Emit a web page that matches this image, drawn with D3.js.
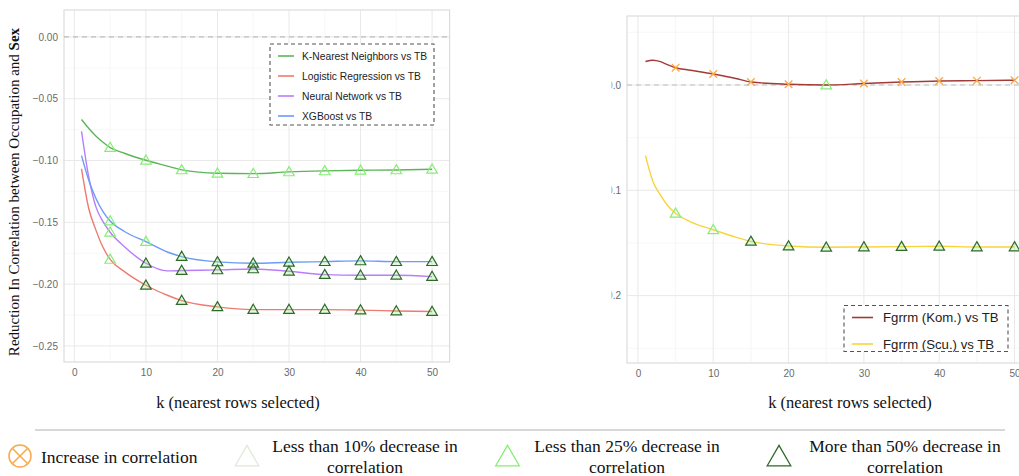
<!DOCTYPE html>
<html><head><meta charset="utf-8">
<script src="https://cdn.jsdelivr.net/npm/d3@7"></script>
<style>
html,body{margin:0;padding:0;background:#fff;}
svg{display:block;}
</style></head>
<body>
<svg id="chart" width="1019" height="476"></svg>
<script>
// ---------------- DATA ----------------
const kValues = [1, 2, 3, 4, 5, 7, 10, 13, 15, 20, 25, 30, 35, 40, 45, 50];
const markerK = [5, 10, 15, 20, 25, 30, 35, 40, 45, 50];

const knnVals = [-0.0668, -0.0739, -0.0801, -0.0852, -0.0895, -0.0941, -0.0998, -0.1045, -0.1076, -0.1103, -0.1106, -0.1092, -0.1084, -0.1079, -0.1076, -0.1071];
const lrVals  = [-0.1068, -0.1386, -0.1561, -0.1702, -0.1800, -0.1899, -0.2009, -0.2090, -0.2133, -0.2184, -0.2206, -0.2206, -0.2206, -0.2210, -0.2217, -0.2222];
const nnVals  = [-0.0763, -0.1130, -0.1373, -0.1494, -0.1580, -0.1697, -0.1831, -0.1893, -0.1890, -0.1885, -0.1877, -0.1896, -0.1923, -0.1928, -0.1928, -0.1939];
const xgbVals = [-0.0960, -0.1157, -0.1305, -0.1413, -0.1489, -0.1574, -0.1656, -0.1740, -0.1777, -0.1820, -0.1831, -0.1823, -0.1818, -0.1812, -0.1818, -0.1818];
const komVals = [0.0223, 0.0235, 0.0221, 0.0190, 0.0164, 0.0140, 0.0104, 0.0062, 0.0028, 0.0007, 0.0000, 0.0014, 0.0028, 0.0038, 0.0041, 0.0045];
const scuVals = [-0.0671, -0.0918, -0.1045, -0.1149, -0.1218, -0.1300, -0.1375, -0.1445, -0.1485, -0.1529, -0.1541, -0.1538, -0.1535, -0.1532, -0.1538, -0.1538];

// marker class per markerK: inc = increase, lt10, lt25, gt50
const knnMarks = ["lt25","lt25","lt25","lt25","lt25","lt25","lt25","lt25","lt25","lt25"];
const lrMarks  = ["lt25","gt50","gt50","gt50","gt50","gt50","gt50","gt50","gt50","gt50"];
const nnMarks  = ["lt25","gt50","gt50","gt50","gt50","gt50","gt50","gt50","gt50","gt50"];
const xgbMarks = ["lt25","lt25","gt50","gt50","gt50","gt50","gt50","gt50","gt50","gt50"];
const komMarks = ["inc","inc","inc","inc","lt25","inc","inc","inc","inc","inc"];
const scuMarks = ["lt25","lt25","gt50","gt50","gt50","gt50","gt50","gt50","gt50","gt50"];

const leftNames  = ["K-Nearest Neighbors vs TB", "Logistic Regression vs TB", "Neural Network vs TB", "XGBoost vs TB"];
const rightNames = ["Fgrrm (Kom.) vs TB", "Fgrrm (Scu.) vs TB"];
const xTicks = [0, 10, 20, 30, 40, 50];
const leftYTicks = [0, -0.05, -0.10, -0.15, -0.20, -0.25];
const rightYTicks = [0, -0.1, -0.2];
const legendLabels = ["Increase in correlation", "Less than 10% decrease in|correlation", "Less than 25% decrease in|correlation", "More than 50% decrease in|correlation"];

// ---------------- STYLE ----------------
const leftColors = ["#5DB55A", "#EE7B70", "#B97DFA", "#6B9CF6"];
const rightColors = ["#A33A35", "#F8D33C"];
const markColor = {inc: "#F7A94B", lt10: "#E0EAD8", lt25: "#86EE74", gt50: "#2F6A2A"};

const svg = d3.select("#chart");

function panel(opts) {
  const g = svg.append("g");
  if (opts.clip) {
    svg.append("defs").append("clipPath").attr("id", opts.clip.id)
      .append("rect").attr("x", opts.clip.x).attr("y", 0).attr("width", 1019 - opts.clip.x).attr("height", 476);
    g.attr("clip-path", `url(#${opts.clip.id})`);
  }
  const x = d3.scaleLinear().domain([-1.45, 52.45]).range(opts.xr);
  const y = d3.scaleLinear().domain(opts.yd).range(opts.yr);
  const [x0, x1] = opts.xr, [y1, y0] = opts.yr;

  // minor grid
  const xMinor = [5, 15, 25, 35, 45];
  g.append("g").selectAll("line").data(xMinor).join("line")
    .attr("x1", d => x(d)).attr("x2", d => x(d)).attr("y1", y0).attr("y2", y1)
    .attr("stroke", "#f3f3f3").attr("stroke-width", 0.7);
  g.append("g").selectAll("line").data(opts.yMinor).join("line")
    .attr("x1", x0).attr("x2", x1).attr("y1", d => y(d)).attr("y2", d => y(d))
    .attr("stroke", "#f3f3f3").attr("stroke-width", 0.7);
  // major grid
  g.append("g").selectAll("line").data(xTicks).join("line")
    .attr("x1", d => x(d)).attr("x2", d => x(d)).attr("y1", y0).attr("y2", y1)
    .attr("stroke", "#e9e9e9").attr("stroke-width", 1);
  g.append("g").selectAll("line").data(opts.yTicks).join("line")
    .attr("x1", x0).attr("x2", x1).attr("y1", d => y(d)).attr("y2", d => y(d))
    .attr("stroke", "#e9e9e9").attr("stroke-width", 1);
  // border
  g.append("rect").attr("x", x0).attr("y", y0).attr("width", x1 - x0).attr("height", y1 - y0)
    .attr("fill", "none").attr("stroke", "#dcdcdc").attr("stroke-width", 1.2);
  // zero line
  g.append("line").attr("x1", x0).attr("x2", x1).attr("y1", y(0)).attr("y2", y(0))
    .attr("stroke", "#bdbdbd").attr("stroke-width", 1.2).attr("stroke-dasharray", "5,4");

  // axes (ticks hidden, labels only)
  const xAxis = g.append("g").attr("transform", `translate(0,${y1 + 4})`)
    .call(d3.axisBottom(x).tickValues(xTicks).tickSize(0).tickFormat(d3.format("d")));
  const yAxis = g.append("g").attr("transform", `translate(${x0 - 3},0)`)
    .call(d3.axisLeft(y).tickValues(opts.yTicks).tickSize(0).tickFormat(d3.format(opts.yFmt)));
  [xAxis, yAxis].forEach(a => {
    a.select(".domain").remove();
    a.selectAll("text").attr("fill", "#6a6a6a").attr("font-family", "Liberation Sans, Arial, sans-serif").attr("font-size", 10);
  });

  // lines
  const line = d3.line().x((d, i) => x(kValues[i])).y(d => y(d)).curve(d3.curveMonotoneX);
  opts.series.forEach((s, si) => {
    g.append("path").datum(s.vals).attr("d", line)
      .attr("fill", "none").attr("stroke", s.color).attr("stroke-width", 1.4);
  });
  // markers
  const tri = d3.symbol().type(d3.symbolTriangle).size(48);
  opts.series.forEach(s => {
    const pts = markerK.map((k, i) => ({k: k, v: s.vals[kValues.indexOf(k)], c: s.marks[i]}));
    pts.forEach(p => {
      const px = x(p.k), py = y(p.v);
      if (p.c === "inc") {
        const r = 3.8;
        g.append("path").attr("d", `M${px - r},${py - r}L${px + r},${py + r}M${px - r},${py + r}L${px + r},${py - r}`)
          .attr("stroke", markColor.inc).attr("stroke-width", 1.3).attr("fill", "none");
      } else {
        g.append("path").attr("d", tri()).attr("transform", `translate(${px},${py + 0.8})`)
          .attr("fill", p.c === "gt50" ? "rgba(134,238,116,0.25)" : "none")
          .attr("stroke", markColor[p.c]).attr("stroke-width", 1.2);
      }
    });
  });

  // legend
  const L = opts.legend;
  g.append("rect").attr("x", L.x).attr("y", L.y).attr("width", L.w).attr("height", L.h)
    .attr("fill", "#fff").attr("stroke", "#555").attr("stroke-width", 1.1).attr("stroke-dasharray", "4,3");
  opts.series.forEach((s, i) => {
    const yy = L.y0 + i * L.dy;
    g.append("line").attr("x1", L.lx0).attr("x2", L.lx1).attr("y1", yy).attr("y2", yy)
      .attr("stroke", s.color).attr("stroke-width", 1.6);
    g.append("text").attr("x", L.tx).attr("y", yy).attr("dy", "0.35em").text(s.name)
      .attr("font-family", "Liberation Sans, Arial, sans-serif").attr("font-size", L.fs).attr("fill", "#222");
  });

  // x title
  g.append("text").attr("x", opts.xTitleX).attr("y", 408).attr("text-anchor", "middle")
    .attr("font-family", "Liberation Serif, Times New Roman, serif").attr("font-size", 16.5).attr("fill", "#111")
    .text("k (nearest rows selected)");
  return g;
}

panel({
  xr: [64, 449.6], yr: [362, 10], yd: [-0.2630, 0.0218],
  yTicks: leftYTicks, yMinor: [0.0, -0.025, -0.075, -0.125, -0.175, -0.225], yFmt: ".2f",
  series: [
    {name: leftNames[0], vals: knnVals, color: leftColors[0], marks: knnMarks},
    {name: leftNames[1], vals: lrVals, color: leftColors[1], marks: lrMarks},
    {name: leftNames[2], vals: nnVals, color: leftColors[2], marks: nnMarks},
    {name: leftNames[3], vals: xgbVals, color: leftColors[3], marks: xgbMarks}
  ],
  legend: {x: 270, y: 44, w: 164, h: 81, y0: 56, dy: 20, lx0: 278, lx1: 294, tx: 302, fs: 10.3},
  xTitleX: 238
});

panel({
  xr: [627, 1033], yr: [363, 16], yd: [-0.264, 0.0655],
  yTicks: rightYTicks, yMinor: [0.05, -0.05, -0.15, -0.25], yFmt: ".1f",
  clip: {id: "clipR", x: 611.5},
  series: [
    {name: rightNames[0], vals: komVals, color: rightColors[0], marks: komMarks},
    {name: rightNames[1], vals: scuVals, color: rightColors[1], marks: scuMarks}
  ],
  legend: {x: 844, y: 305.5, w: 164, h: 46, y0: 317.5, dy: 26.5, lx0: 852, lx1: 873, tx: 883, fs: 13.2},
  xTitleX: 850
});

// separator
svg.append("line").attr("x1", 35).attr("x2", 1005).attr("y1", 430).attr("y2", 430)
  .attr("stroke", "#b0b0b0").attr("stroke-width", 1);

// left y title
const yt = svg.append("text").attr("transform", "translate(19,192) rotate(-90)").attr("text-anchor", "middle")
  .attr("font-family", "Liberation Serif, Times New Roman, serif").attr("font-size", 15).attr("fill", "#111");
yt.append("tspan").text("Reduction In Correlation between Occupation and ");
yt.append("tspan").attr("font-weight", "bold").text("Sex");

// bottom legend
const serif = "Liberation Serif, Times New Roman, serif";
// circle x
const cx = 20, cy = 456, cr = 11;
svg.append("circle").attr("cx", cx).attr("cy", cy).attr("r", cr).attr("fill", "none").attr("stroke", markColor.inc).attr("stroke-width", 1.5);
const dd = cr * Math.SQRT1_2;
svg.append("path").attr("d", `M${cx - dd},${cy - dd}L${cx + dd},${cy + dd}M${cx - dd},${cy + dd}L${cx + dd},${cy - dd}`)
  .attr("stroke", markColor.inc).attr("stroke-width", 1.5);
svg.append("text").attr("x", 41).attr("y", 463).text(legendLabels[0])
  .attr("font-family", serif).attr("font-size", 17.5).attr("fill", "#111");

const bigTri = d3.symbol().type(d3.symbolTriangle).size(240);
const legItems = [
  {cls: "lt10", tx: 247, lx: 365, label: legendLabels[1]},
  {cls: "lt25", tx: 507.5, lx: 627, label: legendLabels[2]},
  {cls: "gt50", tx: 779, lx: 905, label: legendLabels[3]}
];
legItems.forEach(it => {
  svg.append("path").attr("d", bigTri()).attr("transform", `translate(${it.tx},${459})`)
    .attr("fill", "none").attr("stroke", markColor[it.cls]).attr("stroke-width", 1.3);
  const parts = it.label.split("|");
  parts.forEach((p, i) => {
    svg.append("text").attr("x", it.lx).attr("y", 452 + i * 21).attr("text-anchor", "middle").text(p)
      .attr("font-family", serif).attr("font-size", 17.5).attr("fill", "#111");
  });
});
</script>
</body></html>
